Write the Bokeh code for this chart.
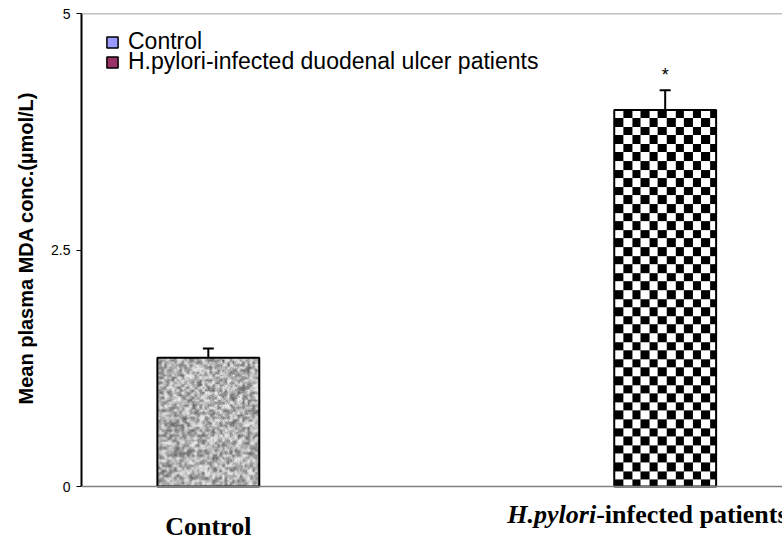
import numpy as np
from bokeh.plotting import figure
from bokeh.models import Range1d, FixedTicker, Whisker, TeeHead, ColumnDataSource, Label, Span, Legend, Title
from bokeh.embed import file_html
from bokeh.resources import INLINE

# ---- data ----
categories = ["Control", "H.pylori-infected duodenal ulcer patients"]
means = [1.36, 3.98]
sems = [0.10, 0.21]
legend_colors = ["#9999FF", "#993366"]
y_ticks = [0, 2.5, 5]
y_tick_labels = ["0", "2.5", "5"]
significance = ["", "*"]
y_title = "Mean plasma MDA conc.(µmol/L)"

# ---- layout constants (styling) ----
W, H = 782, 544
BL, BT = 80, 13
X0, X1 = -0.2776, 1.2568
Y0, Y1 = -0.613, 5
BAR_W = 0.223
px_x = (W - BL) / (X1 - X0)
px_y = (H - BT) / (Y1 - Y0)


def hash2(a, b):
    v = np.sin(a * 12.9898 + b * 78.233) * 43758.5453
    return v - np.floor(v)


def texture(kind, w, h):
    jj, ii = np.meshgrid(np.arange(w), np.arange(h))
    if kind == "checker":
        cell = 8.6
        c = ((np.floor(jj / cell) + np.floor((h - 1 - ii) / cell)) % 2).astype(float)
        g = np.where(c > 0, 0, 255).astype(np.uint8)
    else:
        # mottled grey texture
        s = 2.5
        a, b = jj / s, ii / s
        a0, b0 = np.floor(a), np.floor(b)
        fa, fb = a - a0, b - b0
        n00, n10 = hash2(a0, b0), hash2(a0 + 1, b0)
        n01, n11 = hash2(a0, b0 + 1), hash2(a0 + 1, b0 + 1)
        coarse = (n00 * (1 - fa) + n10 * fa) * (1 - fb) + (n01 * (1 - fa) + n11 * fa) * fb
        fine = hash2(jj + 0.37, ii + 0.91)
        v = 0.75 * coarse + 0.25 * fine
        g = np.clip(175 + (v - 0.5) * 190, 95, 235).astype(np.uint8)
    img = np.empty((h, w), dtype=np.uint32)
    view = img.view(dtype=np.uint8).reshape((h, w, 4))
    view[:, :, 0] = g
    view[:, :, 1] = g
    view[:, :, 2] = g
    view[:, :, 3] = 255
    return img


patterns = ["noise", "checker"]
x = list(range(len(categories)))
upper = [m + s for m, s in zip(means, sems)]

p = figure(width=W, height=H, output_backend="svg", toolbar_location=None,
           x_range=Range1d(X0, X1), y_range=Range1d(Y0, Y1), x_axis_location=None,
           min_border_left=BL, min_border_right=0, min_border_top=BT, min_border_bottom=0)
p.outline_line_color = None
p.grid.visible = False

# textured bar interiors
for i in x:
    wpx = int(round(BAR_W * px_x))
    hpx = int(round(means[i] * px_y))
    p.image_rgba(image=[texture(patterns[i], wpx, hpx)], x=x[i] - BAR_W / 2, y=0,
                 dw=BAR_W, dh=means[i])

# bar outlines
bsrc = ColumnDataSource(dict(x=x, top=means))
p.vbar(x="x", top="top", width=BAR_W, source=bsrc, fill_color=None,
       line_color="black", line_width=2)

# baseline (x axis line) and top border
p.add_layout(Span(location=0, dimension="width", line_color="#808080", line_width=1.5))
p.add_layout(Span(location=Y1, dimension="width", line_color="#808080", line_width=1.5))

# error bars (upper only)
esrc = ColumnDataSource(dict(x=x, lower=means, upper=upper))
p.add_layout(Whisker(base="x", lower="lower", upper="upper", source=esrc, dimension="height",
                     line_color="black", line_width=2, lower_head=None,
                     upper_head=TeeHead(size=11, line_color="black", line_width=2)))

# significance marks
for i in x:
    if significance[i]:
        p.add_layout(Label(x=x[i], y=upper[i], y_offset=15, text=significance[i],
                           text_align="center", text_baseline="middle",
                           text_font="Liberation Sans", text_font_size="18px", text_color="black"))

# legend: one single-entry legend per row so the rows can sit tightly together
legend_vy = [489, 469]
for i, (cat, col) in enumerate(zip(categories, legend_colors)):
    r = p.vbar(x=[x[i]], top=[means[i]], width=BAR_W, fill_color=col, line_color="black",
               line_width=1.5, visible=False)
    p.add_layout(Legend(items=[(cat, [r])], location=(24, legend_vy[i]), margin=0, padding=0,
                        border_line_color=None, background_fill_alpha=0,
                        label_text_font="Liberation Sans", label_text_font_size="23px",
                        label_text_color="black",
                        glyph_width=14, glyph_height=14, label_standoff=9))

# y axis
p.yaxis.bounds = (0, 5)
p.yaxis.ticker = FixedTicker(ticks=y_ticks)
p.yaxis.major_label_overrides = {t: l for t, l in zip(y_ticks, y_tick_labels)}
p.yaxis.minor_tick_line_color = None
p.yaxis.major_tick_in = 0
p.yaxis.major_tick_out = 5
p.yaxis.axis_line_color = "black"
p.yaxis.axis_line_width = 2
p.yaxis.major_tick_line_color = "black"
p.yaxis.major_label_standoff = 6
p.yaxis.major_label_text_font = "Liberation Sans"
p.yaxis.major_label_text_font_size = "14px"
p.yaxis.major_label_text_color = "black"

# y axis title, centred on the 0-5 axis
p.add_layout(Title(text=y_title, align="left", offset=140, standoff=24,
                   text_font="Liberation Sans", text_font_style="bold",
                   text_font_size="20px", text_color="black"), "left")

# category labels
p.add_layout(Label(x=x[0], y=0, y_offset=-40, text="Control", text_align="center",
                   text_baseline="middle", text_font="Liberation Serif", text_font_style="bold",
                   text_font_size="26px", text_color="black"))
p.add_layout(Label(x=x[1], y=0, y_offset=-28, x_offset=-69, text="H.pylori", text_align="right",
                   text_baseline="middle", text_font="Liberation Serif", text_font_style="bold italic",
                   text_font_size="26px", text_color="black"))
p.add_layout(Label(x=x[1], y=0, y_offset=-28, x_offset=-69, text="-infected patients", text_align="left",
                   text_baseline="middle", text_font="Liberation Serif", text_font_style="bold",
                   text_font_size="26px", text_color="black"))

open("out.html", "w").write(file_html(p, INLINE))
